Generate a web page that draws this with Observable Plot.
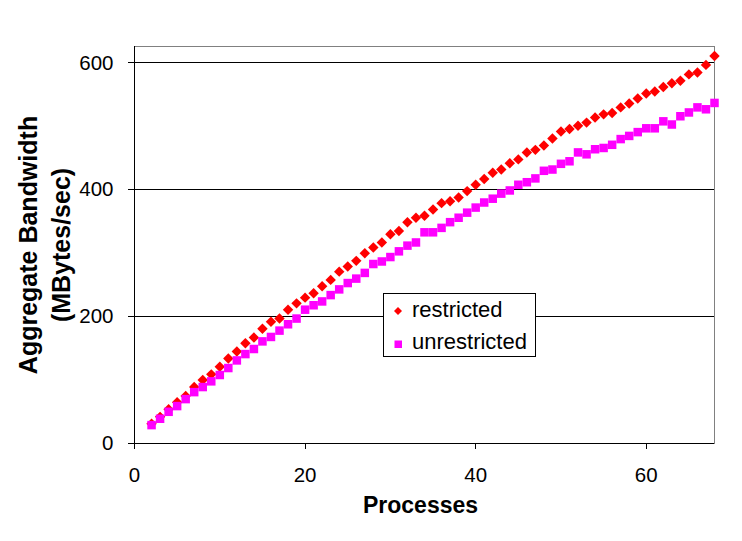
<!DOCTYPE html>
<html>
<head>
<meta charset="utf-8">
<script src="https://cdn.jsdelivr.net/npm/d3@7"></script>
<script src="https://cdn.jsdelivr.net/npm/@observablehq/plot@0.6"></script>
<style>
  html, body { margin: 0; padding: 0; background: #fff; }
  #wrap { position: relative; width: 742px; height: 541px; font-family: "Liberation Sans", Arial, sans-serif; }
  #legend { position: absolute; left: 383px; top: 293px; width: 151px; height: 62px; border: 1px solid #000; background: #fff; }
  .lg-text { position: absolute; left: 28px; font-size: 22px; line-height: 24px; color: #000; white-space: nowrap; }
  .lg-mark { position: absolute; left: 9px; }
</style>
</head>
<body>
<div id="wrap"></div>
<script>
const processes = [2,3,4,5,6,7,8,9,10,11,12,13,14,15,16,17,18,19,20,21,22,23,24,25,26,27,28,29,30,31,32,33,34,35,36,37,38,39,40,41,42,43,44,45,46,47,48,49,50,51,52,53,54,55,56,57,58,59,60,61,62,63,64,65,66,67,68];
const restricted = [31,42,54,65,75,89,100,109,121,134,145,158,167,181,192,197,211,221,230,237,248,258,271,279,288,300,309,317,330,335,349,356,359,369,379,382,388,398,408,417,427,432,442,448,459,463,470,481,492,496,501,506,514,519,521,530,536,544,552,555,562,568,572,582,585,597,611];
const unrestricted = [29,39,50,59,70,81,89,98,108,119,131,141,149,161,168,178,188,197,211,218,224,234,243,253,260,269,283,287,294,303,312,317,333,333,340,349,356,364,372,380,386,394,399,408,412,418,430,432,441,445,459,456,464,466,471,480,485,491,497,497,508,503,516,522,530,527,537];
const seriesNames = ["restricted", "unrestricted"];
const seriesColors = ["#FF0000", "#FF00FF"];
const xTicks = [0, 20, 40, 60];
const yTicks = [0, 200, 400, 600];
const gridValues = [200, 400, 600];
const xTitle = "Processes";
const yTitle = "Aggregate Bandwidth\n(MBytes/sec)";

const rData = processes.map((p, i) => ({x: p, y: restricted[i]}));
const uData = processes.map((p, i) => ({x: p, y: unrestricted[i]}));

const chart = Plot.plot({
  width: 742,
  height: 541,
  marginLeft: 134,
  marginRight: 28,
  marginTop: 46,
  marginBottom: 98,
  style: { fontFamily: "'Liberation Sans', Arial, sans-serif", fontSize: "20px", color: "#000", background: "#fff", overflow: "visible" },
  x: { domain: [0, 68] },
  y: { domain: [0, 626] },
  marks: [
    Plot.frame({ stroke: "#808080", shapeRendering: "crispEdges" }),
    Plot.ruleY(gridValues, { stroke: "#000", shapeRendering: "crispEdges" }),
    Plot.ruleX([0], { stroke: "#000", shapeRendering: "crispEdges" }),
    Plot.ruleY([0], { stroke: "#000", shapeRendering: "crispEdges" }),
    Plot.axisY({ ticks: yTicks, tickSize: 6, tickPadding: 15, label: null, fontSize: 20.5, shapeRendering: "crispEdges" }),
    Plot.axisX({ ticks: xTicks, tickSize: 6, tickPadding: 18, label: null, fontSize: 20.5, shapeRendering: "crispEdges" }),
    Plot.dot(rData, { x: "x", y: "y", symbol: "diamond2", r: 4.7, fill: seriesColors[0], stroke: "none" }),
    Plot.dot(uData, { x: "x", y: "y", symbol: "square", r: 4.8, fill: seriesColors[1], stroke: "none" }),
    Plot.text([xTitle], { frameAnchor: "bottom", dy: 69, dx: -4, fontSize: 23, fontWeight: "bold" }),
    Plot.text([yTitle], { frameAnchor: "left", textAnchor: "middle", rotate: -90, dx: -92, fontSize: 25, fontWeight: "bold", lineHeight: 1.33 })
  ]
});

const wrap = document.getElementById("wrap");
wrap.appendChild(chart);

const legend = document.createElement("div");
legend.id = "legend";
legend.innerHTML =
  `<svg class="lg-mark" style="top:12px" width="10" height="10"><polygon points="5,1 9,5 5,9 1,5" fill="${seriesColors[0]}"/></svg>` +
  `<div class="lg-text" style="top:4px">${seriesNames[0]}</div>` +
  `<svg class="lg-mark" style="top:45px" width="10" height="10"><rect x="1.5" y="1.5" width="7.5" height="7.5" fill="${seriesColors[1]}"/></svg>` +
  `<div class="lg-text" style="top:36px">${seriesNames[1]}</div>`;
wrap.appendChild(legend);
</script>
</body>
</html>
